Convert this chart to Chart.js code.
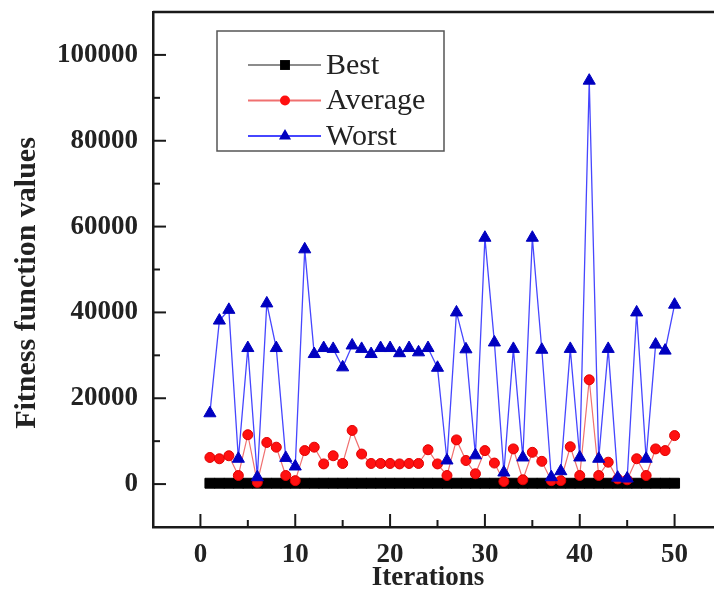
<!DOCTYPE html>
<html>
<head>
<meta charset="utf-8">
<script src="https://cdn.jsdelivr.net/npm/chart.js"></script>
<style>
  html, body { margin: 0; padding: 0; background: #fff; overflow: hidden; }
  #wrap { width: 714px; height: 598px; overflow: hidden; }
</style>
</head>
<body>
<div id="wrap"><canvas id="fitness" width="730" height="598"></canvas></div>
<script>
var iterations = [1, 2, 3, 4, 5, 6, 7, 8, 9, 10, 11, 12, 13, 14, 15, 16, 17, 18, 19, 20,
    21, 22, 23, 24, 25, 26, 27, 28, 29, 30, 31, 32, 33, 34, 35, 36, 37, 38, 39, 40,
    41, 42, 43, 44, 45, 46, 47, 48, 49, 50];

var bestValues = [200, 200, 200, 200, 200, 200, 200, 200, 200, 200,
    200, 200, 200, 200, 200, 200, 200, 200, 200, 200,
    200, 200, 200, 200, 200, 200, 200, 200, 200, 200,
    200, 200, 200, 200, 200, 200, 200, 200, 200, 200,
    200, 200, 200, 200, 200, 200, 200, 200, 200, 200];

var averageValues = [6200, 5900, 6600, 2000, 11500, 400, 9700, 8600, 2000, 800,
    7800, 8600, 4700, 6600, 4800, 12500, 7000, 4800, 4800, 4800,
    4700, 4800, 4800, 8000, 4700, 2000, 10300, 5500, 2400, 7800,
    4900, 600, 8200, 1000, 7400, 5300, 800, 800, 8700, 2000,
    24300, 2000, 5100, 1200, 1000, 5900, 2000, 8200, 7800, 11300];

var worstValues = [16500, 38100, 40600, 5900, 31700, 1600, 42100, 31700, 6100, 4100,
    54700, 30300, 31700, 31500, 27200, 32300, 31500, 30300, 31700, 31700,
    30500, 31700, 30700, 31700, 27100, 5500, 40000, 31400, 6700, 57400,
    33000, 2700, 31500, 6200, 57400, 31300, 1600, 3000, 31500, 6200,
    94000, 5900, 31500, 1500, 1300, 40000, 5900, 32500, 31100, 41800];

var xTicks = [0, 5, 10, 15, 20, 25, 30, 35, 40, 45, 50];
var yTicks = [0, 10000, 20000, 30000, 40000, 50000, 60000, 70000, 80000, 90000, 100000];

var xTitle = 'Iterations';
var yTitle = 'Fitness function values';

var serif = '"Liberation Serif", "Times New Roman", serif';
var axisColor = '#1a1a1a';

function points(values) {
    return iterations.map(function (it, i) { return { x: it, y: values[i] }; });
}

function markPath(ctx, style, x, y, r) {
    ctx.beginPath();
    if (style === 'rect') {
        var s = r * Math.SQRT1_2;
        ctx.rect(x - s, y - s, 2 * s, 2 * s);
    } else if (style === 'triangle') {
        ctx.moveTo(x, y - r);
        ctx.lineTo(x + r * 0.866, y + r * 0.5);
        ctx.lineTo(x - r * 0.866, y + r * 0.5);
        ctx.closePath();
    } else {
        ctx.arc(x, y, r, 0, Math.PI * 2);
    }
}

// drop the extra room Chart.js reserves for end labels
function noEdgePadding(scale) {
    scale.paddingTop = 0;
    scale.paddingBottom = 0;
    scale.paddingLeft = 0;
    scale.paddingRight = 0;
}

// legend box with line + marker samples
var legendBox = {
    id: 'legendBox',
    afterDraw: function (chart) {
        var ctx = chart.ctx;
        ctx.save();
        ctx.strokeStyle = '#555';
        ctx.lineWidth = 1.5;
        ctx.strokeRect(217, 31, 227, 120);
        chart.data.datasets.forEach(function (ds, i) {
            var y = 65 + i * 35.5;
            ctx.strokeStyle = ds.borderColor;
            ctx.lineWidth = 2;
            ctx.beginPath();
            ctx.moveTo(248, y);
            ctx.lineTo(321, y);
            ctx.stroke();
            markPath(ctx, ds.pointStyle, 285, y, ds.legendRadius);
            ctx.fillStyle = ds.pointBackgroundColor;
            ctx.fill();
            ctx.fillStyle = '#222';
            ctx.font = '30px ' + serif;
            ctx.textBaseline = 'middle';
            ctx.textAlign = 'left';
            ctx.fillText(ds.label, 326, y + 1);
        });
        ctx.restore();
    }
};

// inward tick marks, the top frame line and both axis titles
var axisDecor = {
    id: 'axisDecor',
    afterDraw: function (chart) {
        var ctx = chart.ctx, a = chart.chartArea;
        var xs = chart.scales.x, ys = chart.scales.y;
        ctx.save();
        ctx.strokeStyle = axisColor;
        ctx.lineWidth = 2;
        ys.ticks.forEach(function (t) {
            var py = ys.getPixelForValue(t.value);
            var len = t.value % 20000 === 0 ? 13 : 7;
            ctx.beginPath();
            ctx.moveTo(a.left, py);
            ctx.lineTo(a.left + len, py);
            ctx.stroke();
        });
        xs.ticks.forEach(function (t) {
            var px = xs.getPixelForValue(t.value);
            var len = t.value % 10 === 0 ? 13 : 7;
            ctx.beginPath();
            ctx.moveTo(px, a.bottom);
            ctx.lineTo(px, a.bottom - len);
            ctx.stroke();
        });
        ctx.lineWidth = 2.5;
        ctx.beginPath();
        ctx.moveTo(a.left, a.top);
        ctx.lineTo(a.right + 10, a.top);
        ctx.stroke();

        ctx.fillStyle = '#222';
        ctx.textAlign = 'center';
        ctx.textBaseline = 'middle';
        ctx.font = 'bold 27px ' + serif;
        ctx.fillText(xTitle, 428, 578);
        ctx.translate(27, 283);
        ctx.rotate(-Math.PI / 2);
        ctx.font = 'bold 30px ' + serif;
        ctx.fillText(yTitle, 0, 0);
        ctx.restore();
    }
};

var ctx = document.getElementById('fitness').getContext('2d');

var chart = new Chart(ctx, {
    type: 'line',
    data: {
        datasets: [
            {
                label: 'Best',
                data: points(bestValues),
                borderColor: '#8c8c8c',
                borderWidth: 2,
                pointStyle: 'rect',
                pointRadius: 7,
                legendRadius: 7,
                pointBackgroundColor: '#000',
                pointBorderColor: '#000',
                pointBorderWidth: 1,
                order: 2
            },
            {
                label: 'Average',
                data: points(averageValues),
                borderColor: '#f07070',
                borderWidth: 1.2,
                pointStyle: 'circle',
                pointRadius: 5,
                legendRadius: 5,
                pointBackgroundColor: '#ff1010',
                pointBorderColor: '#e00000',
                pointBorderWidth: 1,
                order: 1
            },
            {
                label: 'Worst',
                data: points(worstValues),
                borderColor: '#4646ff',
                borderWidth: 1.3,
                pointStyle: 'triangle',
                pointRadius: 7,
                legendRadius: 7,
                pointBackgroundColor: '#0000c0',
                pointBorderColor: '#0000c0',
                pointBorderWidth: 1,
                order: 0
            }
        ]
    },
    options: {
        responsive: false,
        animation: false,
        layout: { padding: { top: 12, right: 7, left: 0, bottom: 0 } },
        plugins: {
            legend: { display: false },
            tooltip: { enabled: false }
        },
        elements: { line: { tension: 0 } },
        scales: {
            x: {
                type: 'linear',
                min: -5,
                max: 55,
                afterFit: function (scale) { scale.height = 71; noEdgePadding(scale); },
                afterBuildTicks: function (scale) {
                    scale.ticks = xTicks.map(function (v) { return { value: v }; });
                },
                grid: { display: false, drawTicks: false },
                border: { display: true, color: axisColor, width: 2.5 },
                ticks: {
                    autoSkip: false,
                    maxRotation: 0,
                    padding: 12,
                    color: '#222',
                    font: { family: serif, size: 27, weight: 'bold' },
                    callback: function (v) { return v % 10 === 0 ? String(v) : ''; }
                }
            },
            y: {
                type: 'linear',
                min: -10000,
                max: 110000,
                afterFit: function (scale) { scale.width = 153; noEdgePadding(scale); },
                afterBuildTicks: function (scale) {
                    scale.ticks = yTicks.map(function (v) { return { value: v }; });
                },
                grid: { display: false, drawTicks: false },
                border: { display: true, color: axisColor, width: 2.5 },
                ticks: {
                    autoSkip: false,
                    padding: 15,
                    color: '#222',
                    font: { family: serif, size: 27, weight: 'bold' },
                    callback: function (v) { return v % 20000 === 0 ? String(v) : ''; }
                }
            }
        }
    },
    plugins: [axisDecor, legendBox]
});
</script>
</body>
</html>
